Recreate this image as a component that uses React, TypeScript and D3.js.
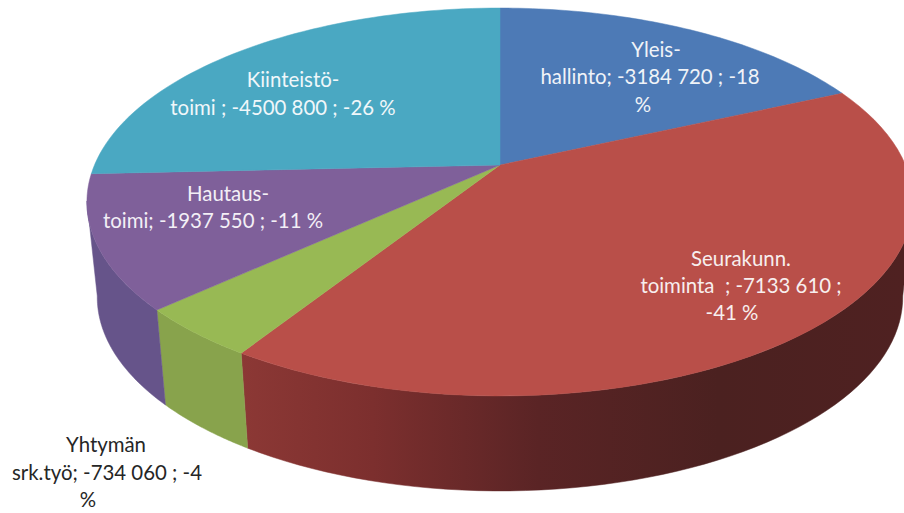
import React from "react";
import * as d3 from "d3";

const categories = ["Yleishallinto", "Seurakunn. toiminta", "Yhtymän srk.työ", "Hautaustoimi", "Kiinteistötoimi"];
const values = [3184720, 7133610, 734060, 1937550, 4500800];
const topColors = ["#4d7ab6", "#b94f49", "#98b954", "#7f609a", "#4aa8c2"];
const wallStops = [
  [],
  [["0%", "#4f2121"], ["28%", "#4b2120"], ["55%", "#5a2425"], ["80%", "#7c2f2e"], ["100%", "#8c3835"]],
  [["0%", "#85a049"], ["100%", "#88a34c"]],
  [["0%", "#68558b"], ["100%", "#66548a"]],
  [],
];
const labelLines = [
  ["Yleis-", "hallinto; -3184 720 ; -18", "%"],
  ["Seurakunn.", "toiminta  ; -7133 610 ;", "-41 %"],
  ["Yhtymän", "srk.työ; -734 060 ; -4", "%"],
  ["Hautaus-", "toimi; -1937 550 ; -11 %"],
  ["Kiinteistö-", "toimi ; -4500 800 ; -26 %"],
];
const labelX = [[656, 650, 643], [741, 741, 732], [106, 107, 88], [228, 213], [293, 283]];
const labelY = [[57, 84, 112], [266, 293, 320], [452, 480, 507], [201, 228], [87, 115]];
const labelFill = ["#f0f3f8", "#f7eeee", "#262626", "#f3eff6", "#f0f7fa"];

const W = 904, H = 513;
const apex = { x: 500, y: 165 };
const persp = 0.1907, R = 405.5, S = 186.9;
const wallDrop = 95, wallScale = 0.975, frontEdge = (100.7 * Math.PI) / 180;

function topPoint(a: number): [number, number] {
  const u = Math.sin(a), v = -Math.cos(a), d = 1 - persp * v;
  return [apex.x + (R * u) / d, apex.y + (S * v) / d];
}
function bottomPoint(a: number): [number, number] {
  const [x, y] = topPoint(a);
  return [apex.x + (x - apex.x) * wallScale, y + wallDrop];
}
const line = d3.line().curve(d3.curveLinear);
const samples = (a0: number, a1: number) => d3.range(0, 61).map((i) => a0 + ((a1 - a0) * i) / 60);

export default function App() {
  const arcs = d3.pie<number>().sort(null)(values);
  return (
    <svg width={W} height={H} viewBox={`0 0 ${W} ${H}`}
      style={{ position: "absolute", left: 0, top: 0, display: "block", background: "#fff" }}>
      <defs>
        {arcs.map((_, i) =>
          wallStops[i].length ? (
            <linearGradient key={i} id={`wall${i}`} gradientUnits="userSpaceOnUse" x1={W} x2={240} y1={0} y2={0}>
              {wallStops[i].map(([o, c]) => <stop key={o} offset={o} stopColor={c} />)}
            </linearGradient>
          ) : null
        )}
      </defs>
      {arcs.map((d, i) => {
        const a0 = Math.max(d.startAngle, frontEdge);
        const a1 = Math.min(d.endAngle, 2 * Math.PI - frontEdge);
        if (a1 <= a0) return null;
        const s = samples(a0, a1);
        const pts = [...s.map(topPoint), ...[...s].reverse().map(bottomPoint)];
        return <path key={categories[i]} d={line(pts) + "Z"} fill={`url(#wall${i})`} stroke={`url(#wall${i})`} strokeWidth={0.5} />;
      })}
      {arcs.map((d, i) => {
        const pts: [number, number][] = [[apex.x, apex.y], ...samples(d.startAngle, d.endAngle).map(topPoint)];
        return <path key={categories[i]} d={line(pts) + "Z"} fill={topColors[i]} stroke={topColors[i]} strokeWidth={0.5} />;
      })}
      {labelLines.map((lines, i) =>
        lines.map((t, j) => (
          <text key={t + j} x={labelX[i][j]} y={labelY[i][j]} textAnchor="middle" xmlSpace="preserve"
            fontFamily="Lato, 'Open Sans', sans-serif" fontSize={20.4} fill={labelFill[i]}>
            {t}
          </text>
        ))
      )}
    </svg>
  );
}
